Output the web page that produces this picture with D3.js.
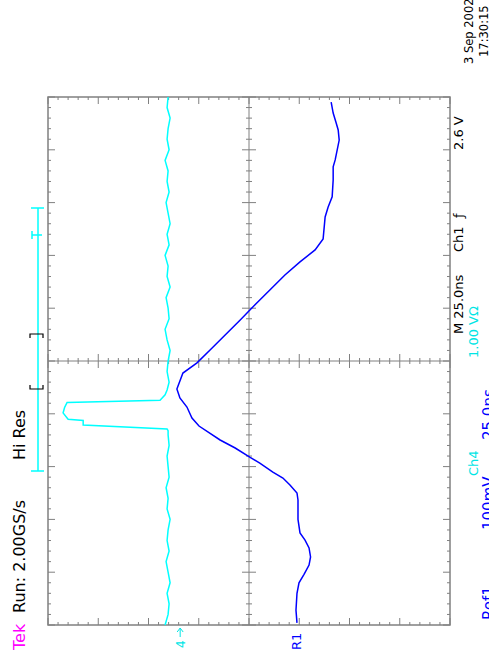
<!DOCTYPE html>
<html>
<head>
<meta charset="utf-8">
<script src="https://cdn.jsdelivr.net/npm/d3@7/dist/d3.min.js"></script>
<style>
body { margin: 0; background: #fff; }
text { font-family: "DejaVu Sans", sans-serif; }
</style>
</head>
<body>
<div id="canvas"></div>
<script>
// Ch4 trace: time in ns (0 = centre of the screen), volts
var ch4_t = [-125, -120, -115, -110, -105, -100, -95, -90, -85, -80, -75, -70, -65, -60, -55, -50, -45, -40, -35, -33,
	-32.2, -30.3, -28.2, -27.6, -24.6, -22, -19.6, -18.6, -16, -13.7, -10, -5, 0, 5, 10, 15, 20, 25, 30, 35,
	40, 45, 50, 55, 60, 65, 70, 75, 80, 85, 90, 95, 100, 105, 110, 115, 120, 125];
var ch4_v = [0.30, 0.24, 0.22, 0.26, 0.20, 0.24, 0.28, 0.22, 0.26, 0.24, 0.20, 0.26, 0.24, 0.28, 0.22, 0.24, 0.26, 0.22, 0.24, 0.24,
	0.26, 1.93, 1.93, 2.23, 2.33, 2.30, 2.25, 0.40, 0.30, 0.26, 0.22, 0.26, 0.24, 0.20, 0.26, 0.30, 0.22, 0.24, 0.28, 0.20,
	0.26, 0.24, 0.30, 0.22, 0.26, 0.20, 0.24, 0.28, 0.22, 0.26, 0.24, 0.30, 0.22, 0.26, 0.24, 0.20, 0.26, 0.24];

// Ref1 trace: time in ns, millivolts
var ref_t = [-124, -118, -110, -105, -101, -96.6, -92.8, -88.5, -84.8, -81.4, -75, -65.8, -62.5, -58.7, -55.4, -52.6, -48.3, -45.5,
	-41.2, -37.4, -30.8, -27, -21.8, -17.5, -13.3, -5.7, -0.9, 5.2, 12.3, 19.4, 26.5, 33.6, 40.7, 46.9, 52.6, 57.8,
	68.2, 72.9, 77.7, 85.7, 91.9, 95.2, 104.6, 109.4, 112.7, 117.4, 122.6];
var ref_mv = [-2, 0, -2, -6, -16, -26, -29, -26, -18, -8, -4, -4, -2, 12, 26, 46, 72, 92,
	121, 151, 193, 207, 217, 231, 237, 225, 197, 171, 141, 111, 82, 52, 22, -8, -38, -54,
	-58, -64, -72, -74, -74, -78, -86, -84, -80, -74, -70];

var left_labels = ["Tek", "Run: 2.00GS/s", "Hi Res"];
var right_labels = ["M 25.0ns", "Ch1", "\u0192", "2.6 V"];
var ch4_labels = ["Ch4", "1.00 V\u03a9"];
var ref_labels = ["Ref1", "100mV", "25.0ns"];
var date_labels = ["3 Sep 2002", "17:30:15"];

var ch4_ground = 1.37;   // divisions above centre
var ref_ground = -0.935;

/* ---------- d3 definitions ---------- */
var width = 489, height = 665;
var left = 48, right = 450, top_ = 97, bottom = 625;

var x_div = d3.scaleLinear().domain([4, -4]).range([left, right]);
var y_scale = d3.scaleLinear().domain([-125, 125]).range([bottom, top_]);
var y_div = d3.scaleLinear().domain([-5, 5]).range([bottom, top_]);

var x_ch4 = d3.scaleLinear().domain([4 - ch4_ground, -4 - ch4_ground]).range([left, right]);
var x_ref = d3.scaleLinear().domain([(4 - ref_ground) * 100, (-4 - ref_ground) * 100]).range([left, right]);

var svg = d3.select("#canvas").append("svg")
	.attr("width", width)
	.attr("height", height);

svg.append("rect").attr("width", width).attr("height", height).attr("fill", "#fff");

var grid = svg.append("g").attr("stroke", "#808080").attr("fill", "none");

grid.append("rect")
	.attr("x", left).attr("y", top_)
	.attr("width", right - left).attr("height", bottom - top_)
	.attr("stroke-width", 1.5);

grid.append("line").attr("x1", x_div(0)).attr("x2", x_div(0)).attr("y1", top_).attr("y2", bottom);
grid.append("line").attr("x1", left).attr("x2", right).attr("y1", y_div(0)).attr("y2", y_div(0));

function tlen(v) { return Math.abs(v - Math.round(v)) < 1e-6 ? 7 : 3; }

// ticks along horizontal lines
d3.range(-4, 4.001, 0.2).forEach(function(d) {
	var xx = x_div(d), l = tlen(d);
	grid.append("line").attr("x1", xx).attr("x2", xx).attr("y1", top_).attr("y2", top_ + l);
	grid.append("line").attr("x1", xx).attr("x2", xx).attr("y1", bottom).attr("y2", bottom - l);
	grid.append("line").attr("x1", xx).attr("x2", xx).attr("y1", y_div(0) - l).attr("y2", y_div(0) + l);
});
// ticks along vertical lines
d3.range(-5, 5.001, 0.2).forEach(function(d) {
	var yy = y_div(d), l = tlen(d);
	grid.append("line").attr("y1", yy).attr("y2", yy).attr("x1", left).attr("x2", left + l);
	grid.append("line").attr("y1", yy).attr("y2", yy).attr("x1", right).attr("x2", right - l);
	grid.append("line").attr("y1", yy).attr("y2", yy).attr("x1", x_div(0) - l).attr("x2", x_div(0) + l);
});

var ch4_line = d3.line()
	.x(function(d, i) { return x_ch4(ch4_v[i]); })
	.y(function(d) { return y_scale(d); });

var ref_line = d3.line()
	.x(function(d, i) { return x_ref(ref_mv[i]); })
	.y(function(d) { return y_scale(d); });

svg.append("path")
	.attr("d", ch4_line(ch4_t))
	.attr("fill", "none")
	.attr("stroke", "#00ffff")
	.attr("stroke-width", 1.5);

svg.append("path")
	.attr("d", ref_line(ref_t))
	.attr("fill", "none")
	.attr("stroke", "#0000ff")
	.attr("stroke-width", 1.5);

// rotated text helper
function vtext(x, y, s, color, size) {
	return svg.append("text")
		.attr("transform", "translate(" + x + "," + y + ") rotate(-90)")
		.attr("fill", color)
		.attr("font-size", size)
		.text(s);
}

vtext(25, 650, left_labels[0], "#ff00ff", 16);
vtext(25, 613, left_labels[1], "#000", 16);
vtext(25, 460, left_labels[2], "#000", 16);

vtext(463, 334, right_labels[0], "#000", 13);
vtext(463, 252, right_labels[1], "#000", 13);
vtext(463, 218, right_labels[2], "#000", 13);
vtext(463, 150, right_labels[3], "#000", 13);

vtext(478, 476, ch4_labels[0], "#00e5e5", 13);
vtext(478, 358, ch4_labels[1], "#00e5e5", 13);

vtext(494, 620, ref_labels[0], "#0000ff", 15);
vtext(494, 530, ref_labels[1], "#0000ff", 15);
vtext(494, 440, ref_labels[2], "#0000ff", 15);

vtext(473, 64, date_labels[0], "#000", 11.5);
vtext(488, 57, date_labels[1], "#000", 11.5);

// channel markers
vtext(x_ch4(0) + 5, 648, "4", "#00e5e5", 12);
svg.append("path")
	.attr("d", "M" + x_ch4(0) + ",637V628M" + (x_ch4(0) - 3) + ",632L" + x_ch4(0) + ",628L" + (x_ch4(0) + 3) + ",632")
	.attr("stroke", "#00e5e5").attr("fill", "none");
vtext(x_ref(0) + 5, 650, "R1", "#0000ff", 13);

// record view bar
var rec = svg.append("g").attr("stroke", "#00ffff").attr("fill", "none").attr("stroke-width", 1.5);
rec.append("line").attr("x1", 38).attr("x2", 38).attr("y1", 208).attr("y2", 471);
rec.append("line").attr("x1", 31).attr("x2", 44).attr("y1", 208).attr("y2", 208);
rec.append("line").attr("x1", 31).attr("x2", 44).attr("y1", 471).attr("y2", 471);
rec.append("path").attr("d", "M32,231V239M32,235H42");
var br = svg.append("g").attr("stroke", "#000").attr("fill", "none").attr("stroke-width", 1.2);
br.append("path").attr("d", "M30,338V334H43V338");
br.append("path").attr("d", "M30,385V389H43V385");
</script>
</body>
</html>
